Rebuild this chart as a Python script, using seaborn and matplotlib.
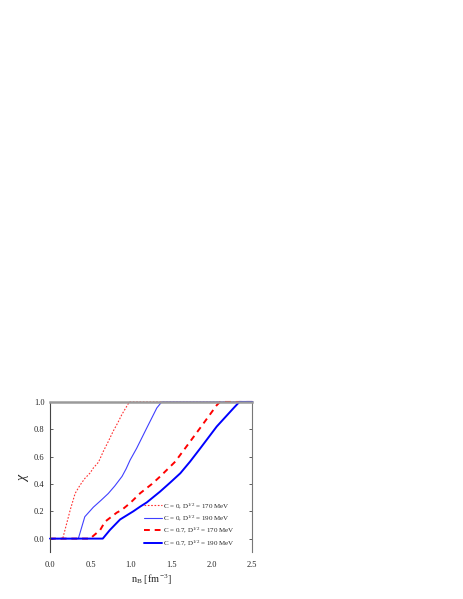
import pandas as pd
import matplotlib
matplotlib.use("Agg")
import matplotlib.pyplot as plt
import seaborn as sns

# chi(n_B) curves
c0_170_x = [0.0, 0.157, 0.25, 0.31, 0.37, 0.43, 0.495, 0.536, 0.60, 0.66, 0.72, 0.78, 0.84, 0.887, 0.94, 0.98, 2.5]
c0_170_y = [0.0, 0.0, 0.21, 0.33, 0.39, 0.44, 0.48, 0.517, 0.56, 0.64, 0.71, 0.785, 0.85, 0.907, 0.96, 1.0, 1.0]

c0_190_x = [0.0, 0.35, 0.43, 0.536, 0.63, 0.72, 0.80, 0.89, 0.94, 0.99, 1.07, 1.196, 1.32, 1.38, 2.5]
c0_190_y = [0.0, 0.0, 0.16, 0.23, 0.28, 0.33, 0.385, 0.455, 0.51, 0.575, 0.66, 0.81, 0.956, 1.0, 1.0]

c07_170_x = [0.0, 0.495, 0.62, 0.68, 0.825, 0.887, 0.99, 1.114, 1.26, 1.36, 1.547, 1.65, 1.856, 2.06, 2.10, 2.5]
c07_170_y = [0.0, 0.0, 0.063, 0.124, 0.19, 0.21, 0.26, 0.332, 0.40, 0.454, 0.563, 0.645, 0.81, 0.976, 1.0, 1.0]

c07_190_x = [0.0, 0.652, 0.74, 0.866, 1.03, 1.114, 1.196, 1.36, 1.485, 1.61, 1.73, 1.856, 2.06, 2.27, 2.34, 2.5]
c07_190_y = [0.0, 0.0, 0.063, 0.14, 0.20, 0.234, 0.265, 0.344, 0.41, 0.478, 0.563, 0.66, 0.82, 0.956, 1.0, 1.0]

labels = [
    r"C = 0, D$^{1/2}$ = 170 MeV",
    r"C = 0, D$^{1/2}$ = 190 MeV",
    r"C = 0.7, D$^{1/2}$ = 170 MeV",
    r"C = 0.7, D$^{1/2}$ = 190 MeV",
]

sns.set_style("ticks")
plt.rcParams.update({
    "font.family": ["Liberation Serif", "DejaVu Serif"],
    "mathtext.fontset": "custom",
    "mathtext.rm": "Liberation Serif",
    "mathtext.it": "Liberation Serif:italic",
    "axes.linewidth": 0.8,
})

fig = plt.figure(figsize=(4.63, 5.99), dpi=100)
ax = fig.add_axes([0.108, 0.078, 0.437, 0.251])

sns.lineplot(x=c0_170_x, y=c0_170_y, ax=ax, color="#ff3030", lw=0.8, ls=(0, (1.5, 1.5)),
             label=labels[0], sort=False, clip_on=False)
sns.lineplot(x=c0_190_x, y=c0_190_y, ax=ax, color="#4040ff", lw=0.8, ls="-",
             label=labels[1], sort=False, clip_on=False)
sns.lineplot(x=c07_170_x, y=c07_170_y, ax=ax, color="#ff0000", lw=1.4, ls=(0, (3, 2.5)),
             label=labels[2], sort=False, clip_on=False)
sns.lineplot(x=c07_190_x, y=c07_190_y, ax=ax, color="#0000ff", lw=1.4, ls="-",
             label=labels[3], sort=False, clip_on=False)

ax.set_xlim(0, 2.5)
ax.set_ylim(-0.1, 1.0)
ax.set_xticks([0.0, 0.5, 1.0, 1.5, 2.0, 2.5])
ax.set_yticks([0.0, 0.2, 0.4, 0.6, 0.8, 1.0])
ax.xaxis.set_major_formatter(matplotlib.ticker.FormatStrFormatter("%.1f"))
ax.yaxis.set_major_formatter(matplotlib.ticker.FormatStrFormatter("%.1f"))
ax.tick_params(axis="y", direction="in", length=2.5, width=0.6, labelsize=6, right=True, pad=4,
               color="#444444")
ax.tick_params(axis="x", length=0, labelsize=6, pad=6)

ax.spines["bottom"].set_visible(False)
ax.spines["left"].set_color("#444444")
ax.spines["right"].set_color("#777777")
ax.spines["top"].set_color("#9a9a9a")
ax.spines["top"].set_linewidth(1.8)

ax.set_xlabel(r"n$_\mathrm{B}$ [fm$^{-3}$]", fontsize=7.5, labelpad=3)
ax.set_ylabel(r"$\chi$", fontsize=10, labelpad=2, family="DejaVu Serif")

ax.legend(loc="lower right", bbox_to_anchor=(0.93, 0.01), frameon=False, fontsize=5,
          handlelength=2.6, handletextpad=0.2, labelspacing=0.42, borderaxespad=0)

fig.savefig("out.png", dpi=100)
